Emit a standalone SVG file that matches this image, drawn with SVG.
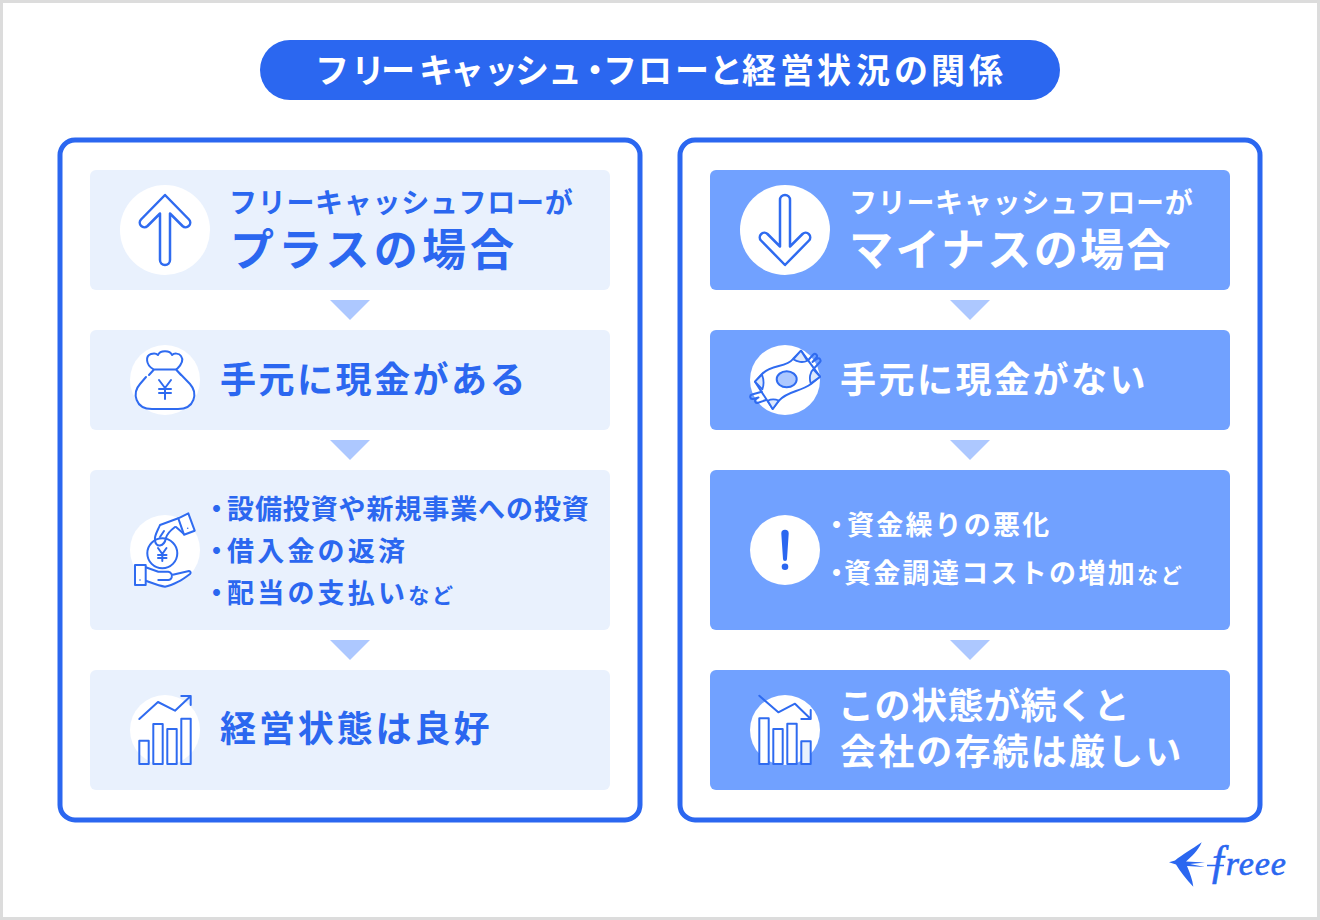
<svg xmlns="http://www.w3.org/2000/svg" width="1320" height="920" viewBox="0 0 1320 920">
<defs>
<style>
text{font-family:"Noto Sans CJK JP","Noto Sans",sans-serif;font-weight:700}
.b{fill:#2b67f0}.w{fill:#fff}
.pale{fill:#e9f1fd}.mid{fill:#71a1ff}
.panel{fill:#fff;stroke:#2b67f0;stroke-width:5}
.ic{fill:none;stroke:#2f6bf0;stroke-width:2;stroke-linecap:round;stroke-linejoin:round}
.ar{fill:none;stroke:#2f6bf0;stroke-width:2.500;stroke-linecap:round;stroke-linejoin:round}
.icw{fill:#fff;stroke:#2f6bf0;stroke-width:2;stroke-linecap:round;stroke-linejoin:round}
.tri{fill:#adc8ff}
</style>
</defs>
<rect x="0" y="0" width="1320" height="920" fill="#fff"/>
<rect x="1.500" y="1.500" width="1317" height="917" fill="none" stroke="#dcdcdc" stroke-width="3"/>
<g id="title"><rect x="260" y="40" width="800" height="60" rx="30" fill="#2b67f0"/>
<text x="315 351 381 419 450 484 515 548 578 603 638 675 709 742 780 817 856 894 931 969" y="83" font-size="34" class="w">フリーキャッシュ・フローと経営状況の関係</text></g>
<g id="panel-left"><rect x="60" y="140" width="580" height="680" rx="15" class="panel"/></g>
<g id="panel-right"><rect x="680" y="140" width="580" height="680" rx="15" class="panel"/></g>
<g id="connectors">
<path class="tri" d="M330 300h40l-20 20z"/><path class="tri" d="M330 440h40l-20 20z"/><path class="tri" d="M330 640h40l-20 20z"/>
<path class="tri" d="M950 300h40l-20 20z"/><path class="tri" d="M950 440h40l-20 20z"/><path class="tri" d="M950 640h40l-20 20z"/>
</g>
<g id="l1"><rect x="90" y="170" width="520" height="120" rx="6" class="pale"/>
<circle cx="165" cy="230" r="45" fill="#fff"/>
<path class="ar" d="M165 195L189 219.500A4.600 4.600 0 0 1 182.500 226L170 213.500V260A5 5 0 0 1 160 260V213.500L147.500 226A4.600 4.600 0 0 1 141 219.500Z"/>
<text x="229" y="213" font-size="28" letter-spacing="0.700" class="b">フリーキャッシュフローが</text>
<text x="230" y="266" font-size="44" letter-spacing="4.200" class="b">プラスの場合</text></g>
<g id="l2"><rect x="90" y="330" width="520" height="100" rx="6" class="pale"/>
<circle cx="165" cy="380" r="35" fill="#fff"/>
<path class="ic" d="M153 369C146 365 145 356 151 354C154 353 157 354 158 355C160 350 170 350 172 355C174 353 179 353 181 356C184 360 181 365 177 369M149 375L154 369.500H176L181 375M176 369.500L190 384C198 393 195 409 178 409H152C135 409 132 393 140 384L146 377"/>
<path class="ic" d="M159 380L165 388L171 380M165 388V399M159 389H171M159 393H171"/>
<text x="220" y="393" font-size="36" letter-spacing="2.500" class="b">手元に現金がある</text></g>
<g id="l3"><rect x="90" y="470" width="520" height="160" rx="6" class="pale"/>
<circle cx="165" cy="550" r="35" fill="#fff"/>
<path class="ic" d="M178.300 518.300L160 525C158 530 154 536 155 540C155 543 157 546 160 545.500C163 545 165 543 166 538C167 533 171 530 175 527"/>
<path class="ic" d="M160 537L164 531M176 527L184 534"/>
<path class="icw" d="M178.300 518.300L188.300 513.300L194.700 530.700L184 534.700Z"/>
<circle cx="187.700" cy="528.300" r="0.800" fill="#2f6bf0"/>
<circle cx="162.300" cy="553.300" r="15" class="ic"/>
<path class="ic" d="M158 548L162.300 554L166.500 548M162.300 554V561M158 555H166.500M158 558H166.500"/>
<path class="ic" d="M145.700 567.300L158.300 571.700H168.300C171 572 172.500 575 171.700 577.300C171 579 170 580 168.300 580H158.300M171.700 575L189 571C191 571.500 191 573 190 574C186 577 182 580 178.300 581.700C174 584 170 586 165 586.700C159 586 152 583 145.700 580.700"/>
<rect x="135" y="565" width="10.700" height="20" class="icw"/>
<circle cx="140" cy="580" r="0.800" fill="#2f6bf0"/>
<text font-size="27" class="b"><tspan x="203" y="519">・</tspan><tspan x="227" letter-spacing="0.900">設備投資や新規事業への投資</tspan></text>
<text font-size="27" class="b"><tspan x="203" y="561">・</tspan><tspan x="227" letter-spacing="3.200">借入金の返済</tspan></text>
<text font-size="27" class="b"><tspan x="203" y="603">・</tspan><tspan x="227" letter-spacing="3.200">配当の支払い</tspan><tspan font-size="21" letter-spacing="2.800">など</tspan></text></g>
<g id="l4"><rect x="90" y="670" width="520" height="120" rx="6" class="pale"/>
<circle cx="165" cy="730" r="35" fill="#fff"/>
<g class="ic"><rect x="139.300" y="740.700" width="9.400" height="23.300"/><rect x="153.300" y="724" width="9.400" height="40"/><rect x="167.300" y="729" width="9.400" height="35"/><rect x="181.300" y="718.700" width="9.400" height="45.300"/>
<path d="M139.300 719L158 702L175 710.700L190.700 696M181.300 696H190.700V705"/></g>
<text x="220" y="742" font-size="36" letter-spacing="2.900" class="b">経営状態は良好</text></g>
<g id="r1"><rect x="710" y="170" width="520" height="120" rx="6" class="mid"/>
<circle cx="785" cy="230" r="45" fill="#fff"/>
<path class="ar" d="M785 265L809 240.500A4.600 4.600 0 0 0 802.500 234L790 246.500V200A5 5 0 0 0 780 200V246.500L767.500 234A4.600 4.600 0 0 0 761 240.500Z"/>
<text x="849" y="213" font-size="28" letter-spacing="0.700" class="w">フリーキャッシュフローが</text>
<text x="849" y="266" font-size="44" letter-spacing="2.400" class="w">マイナスの場合</text></g>
<g id="r2"><rect x="710" y="330" width="520" height="100" rx="6" class="mid"/>
<circle cx="785" cy="380" r="35" fill="#fff"/>
<path class="icw" d="M755 381.700L762 374C772 364 786 368 793 359L801 350.700L820 376.700L811 384C800 392 787 391 779 400.700L772.700 409Z"/>
<path fill="#dce8fd" stroke="#2f6bf0" stroke-width="1.800" stroke-linejoin="round" d="M793.300 359.300C797 362 803 363 807.300 360.700L801 350.700ZM813.300 369.300C810 372 809 378 810.700 383.500L820 376.700ZM755 381.700L762.300 389.300C764 385 764 380 762 374.500ZM767.700 400.700L772.700 409L778.800 400.500C775 399 771 399 767.700 400.700Z"/>
<ellipse cx="786.700" cy="379.300" rx="10" ry="8" fill="#adc8ff" stroke="#2f6bf0" stroke-width="2"/>
<path class="ic" d="M808.300 360L813.300 354.500A2.200 2.200 0 0 1 816.500 357.500L812.500 362L817.500 358.500A2.200 2.200 0 0 1 820 362L814 368.500"/>
<path class="ic" d="M761.700 391.700L752 394.500A2.200 2.200 0 0 0 753 399L758.500 397.500L755.500 399.500A2.200 2.200 0 0 0 757.500 403L766 400"/>
<text x="840" y="393" font-size="36" letter-spacing="2.500" class="w">手元に現金がない</text></g>
<g id="r3"><rect x="710" y="470" width="520" height="160" rx="6" class="mid"/>
<circle cx="785" cy="550" r="35" fill="#fff"/>
<path d="M781.300 533.500A3.700 3.700 0 0 1 788.700 533.500L787 559A2 2 0 0 1 783 559Z" fill="#2b67f0"/><circle cx="785" cy="566.700" r="3.300" fill="#2b67f0"/>
<text font-size="27" class="w"><tspan x="823" y="535">・</tspan><tspan x="847" letter-spacing="2.200">資金繰りの悪化</tspan></text>
<text font-size="27" class="w"><tspan x="823" y="583">・</tspan><tspan x="844" letter-spacing="2.300">資金調達コストの増加</tspan><tspan font-size="21" letter-spacing="2.800">など</tspan></text></g>
<g id="r4"><rect x="710" y="670" width="520" height="120" rx="6" class="mid"/>
<circle cx="785" cy="730" r="35" fill="#fff"/>
<g class="icw"><rect x="759.300" y="718.300" width="9.400" height="45.700"/><rect x="773.300" y="729" width="9.400" height="35"/><rect x="787.300" y="723.700" width="9.400" height="40.300"/><rect x="801.300" y="741.300" width="9.400" height="22.700" fill="#e9f1fd"/>
<path fill="none" d="M759.300 695.700L778.300 712.300L795 703.700L810.700 719M801.300 719H810.700V710"/></g>
<text x="838" y="719" font-size="36" letter-spacing="0.500" class="w">この状態が続くと</text>
<text x="840" y="765" font-size="36" letter-spacing="2.150" class="w">会社の存続は厳しい</text></g>
<g id="logo">
<path class="b" d="M1169 862.300L1175 860.500C1182 855 1192 849 1201.700 842.300C1198 851 1191 857 1186 861.500L1205 862.500L1190 864L1205 867L1187 866C1190 873 1192.500 880 1193.300 886.700C1186 879 1180 871 1176 864.500Z"/>
<path d="M1207 865.500H1224" stroke="#2b67f0" stroke-width="1.500" fill="none"/>
<text x="1212" y="875" font-style="italic" style="font-family:'Liberation Serif',serif;font-weight:400" class="b" stroke="#2b67f0" stroke-width="0.600"><tspan font-size="42">f</tspan><tspan font-size="34" dx="2" letter-spacing="1">reee</tspan></text></g>
</svg>
